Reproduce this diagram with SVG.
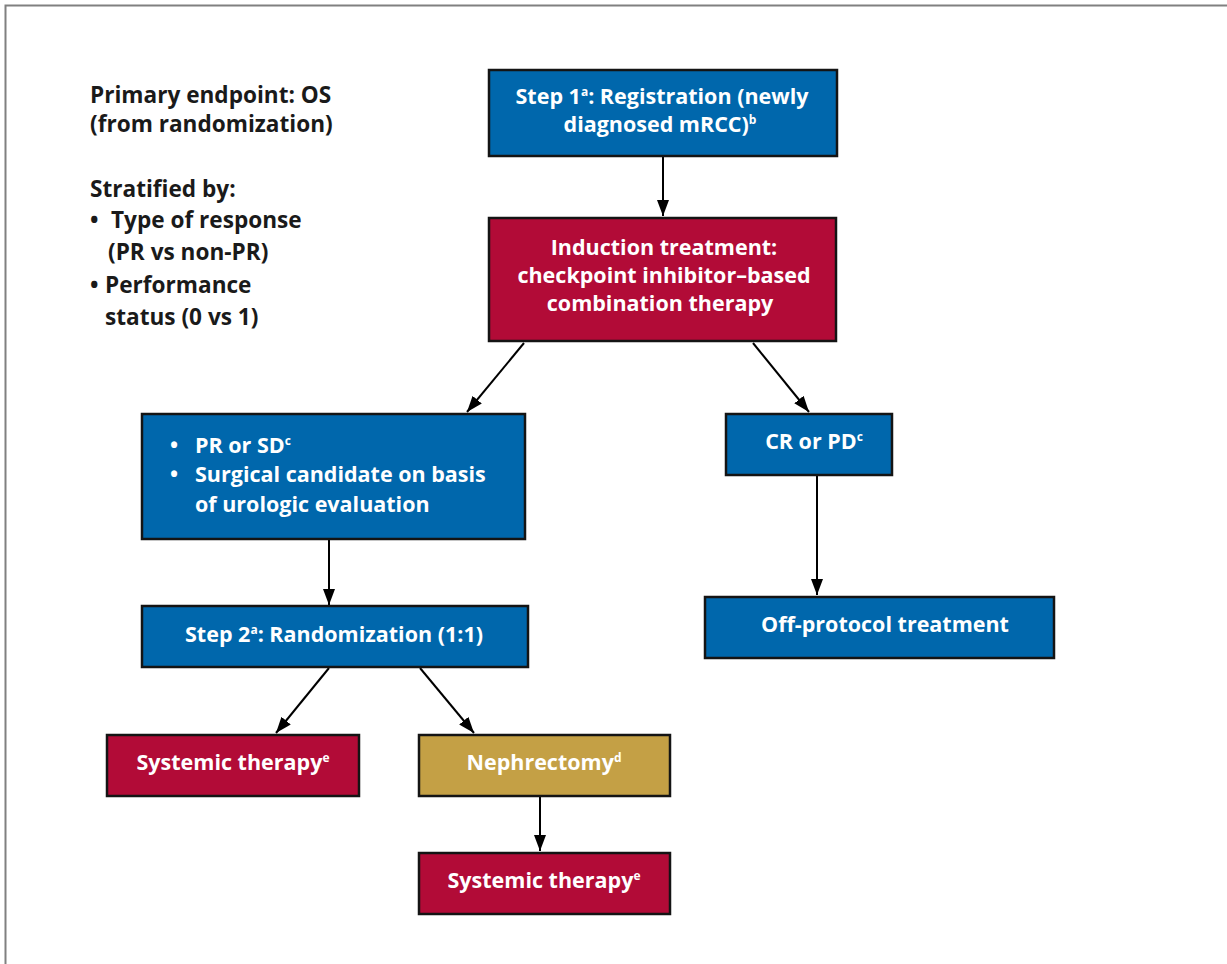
<svg xmlns="http://www.w3.org/2000/svg" width="1227" height="964" viewBox="0 0 1227 964">
<defs>
<style>
.t{font-family:"Open Sans","Noto Sans",sans-serif;font-weight:700;font-size:21.5px;fill:#ffffff}
.l{font-family:"Open Sans","Noto Sans",sans-serif;font-weight:700;font-size:22.6px;fill:#1a1a1a}
.m{text-anchor:middle}
.sup{font-size:12px}
.blue{fill:#0067ac;stroke:#141414;stroke-width:2.5}
.red{fill:#b20b37;stroke:#141414;stroke-width:2.5}
.gold{fill:#c4a045;stroke:#141414;stroke-width:2.5}
.c{stroke:#000;stroke-width:2;fill:none;marker-end:url(#ah)}
</style>
<marker id="ah" viewBox="0 0 16 12" refX="16" refY="6" markerWidth="16" markerHeight="12" markerUnits="userSpaceOnUse" orient="auto">
<path d="M0,0 L16,6 L0,12 z" fill="#000"/>
</marker>
</defs>
<rect width="1227" height="964" fill="#fff"/>
<path d="M5.5,964 V5.5 H1227" fill="none" stroke="#808080" stroke-width="2"/>

<g id="legend">
<text class="l" x="90" y="103">Primary endpoint: OS</text>
<text class="l" x="90" y="132">(from randomization)</text>
<text class="l" x="90" y="197">Stratified by:</text>
<text class="l" x="90" y="228">•</text>
<text class="l" x="111" y="228">Type of response</text>
<text class="l" x="108" y="260">(PR vs non-PR)</text>
<text class="l" x="90" y="293">•</text>
<text class="l" x="105" y="293">Performance</text>
<text class="l" x="105" y="325">status (0 vs 1)</text>
</g>

<g id="connectors">
<line class="c" x1="663" y1="157" x2="663" y2="216"/>
<line class="c" x1="524" y1="343" x2="467" y2="412"/>
<line class="c" x1="753" y1="343" x2="809" y2="412"/>
<line class="c" x1="329" y1="540" x2="329" y2="605"/>
<line class="c" x1="817" y1="476" x2="817" y2="595"/>
<line class="c" x1="329" y1="668" x2="276" y2="733"/>
<line class="c" x1="420" y1="668" x2="474" y2="733"/>
<line class="c" x1="540" y1="797" x2="540" y2="851"/>
</g>

<g id="step1">
<rect class="blue" x="489" y="70" width="348" height="86"/>
<text class="t m" x="662" y="104">Step 1<tspan class="sup" dy="-8">a</tspan><tspan dy="8">: Registration (newly</tspan></text>
<text class="t m" x="660" y="132">diagnosed mRCC)<tspan class="sup" dy="-8">b</tspan></text>
</g>

<g id="induction">
<rect class="red" x="489" y="218" width="347" height="123"/>
<text class="t m" x="664" y="255">Induction treatment:</text>
<text class="t m" x="664" y="283">checkpoint inhibitor–based</text>
<text class="t m" x="660" y="311">combination therapy</text>
</g>

<g id="pr-sd">
<rect class="blue" x="142" y="414" width="383" height="125"/>
<text class="t" x="170" y="453">•</text>
<text class="t" x="195" y="453">PR or SD<tspan class="sup" dy="-8">c</tspan></text>
<text class="t" x="170" y="482">•</text>
<text class="t" x="195" y="482">Surgical candidate on basis</text>
<text class="t" x="195" y="512">of urologic evaluation</text>
</g>

<g id="cr-pd">
<rect class="blue" x="726" y="414" width="166" height="61"/>
<text class="t m" x="814" y="449">CR or PD<tspan class="sup" dy="-8">c</tspan></text>
</g>

<g id="step2">
<rect class="blue" x="142" y="606" width="386" height="61"/>
<text class="t m" x="334" y="642">Step 2<tspan class="sup" dy="-8">a</tspan><tspan dy="8">: Randomization (1:1)</tspan></text>
</g>

<g id="off-protocol">
<rect class="blue" x="705" y="597" width="349" height="61"/>
<text class="t m" x="885" y="632">Off-protocol treatment</text>
</g>

<g id="systemic-left">
<rect class="red" x="107" y="735" width="252" height="61"/>
<text class="t m" x="233" y="770">Systemic therapy<tspan class="sup" dy="-8">e</tspan></text>
</g>

<g id="nephrectomy">
<rect class="gold" x="419" y="735" width="251" height="61"/>
<text class="t m" x="544" y="770">Nephrectomy<tspan class="sup" dy="-8">d</tspan></text>
</g>

<g id="systemic-bottom">
<rect class="red" x="419" y="853" width="251" height="61"/>
<text class="t m" x="544" y="888">Systemic therapy<tspan class="sup" dy="-8">e</tspan></text>
</g>
</svg>
